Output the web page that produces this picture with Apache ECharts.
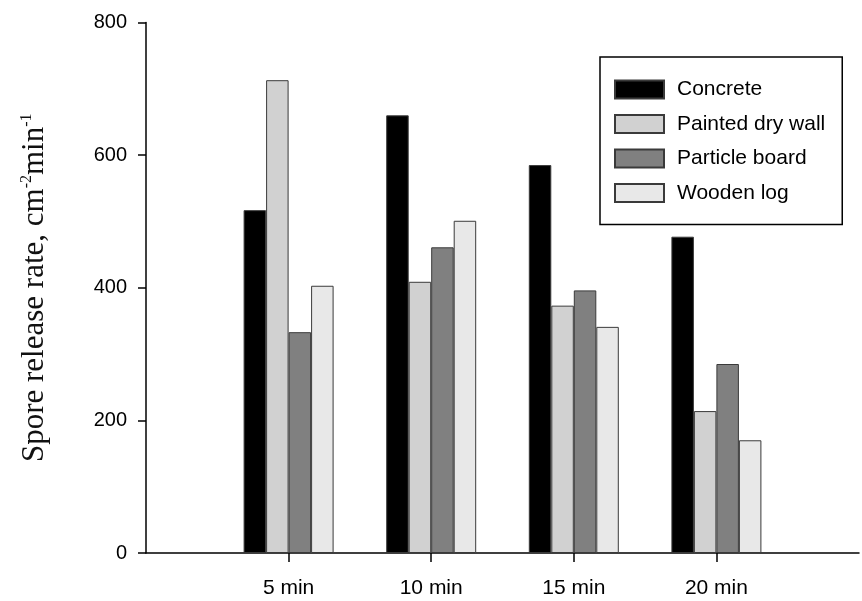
<!DOCTYPE html>
<html>
<head>
<meta charset="utf-8">
<script src="https://cdn.jsdelivr.net/npm/echarts@6/dist/echarts.min.js"></script>
<style>html,body{margin:0;padding:0;background:#fff;}#c{width:862px;height:601px;}</style>
</head>
<body>
<div id="c"></div>
<script>
const categories = ['5 min', '10 min', '15 min', '20 min'];
const seriesNames = ['Concrete', 'Painted dry wall', 'Particle board', 'Wooden log'];
const concrete = [517, 660, 585, 477];
const paintedDryWall = [713, 409, 373, 214];
const particleBoard = [333, 461, 396, 285];
const woodenLog = [403, 501, 341, 170];
const yTicks = [0, 200, 400, 600, 800];

const colors = ['#000000', '#d1d1d1', '#808080', '#e8e8e8'];
const values = [concrete, paintedDryWall, particleBoard, woodenLog];
const axisCats = [''].concat(categories, ['']);

const chart = echarts.init(document.getElementById('c'), null, {renderer: 'canvas'});
const font = 'Liberation Sans, Arial, sans-serif';
const serif = 'Liberation Serif, Times New Roman, serif';
chart.setOption({
  animation: false,
  backgroundColor: '#ffffff',
  grid: {left: 146, top: 22.5, width: 727, height: 530.5, containLabel: false},
  legend: {
    orient: 'vertical',
    left: 600, top: 57,
    data: seriesNames,
    icon: 'rect',
    itemWidth: 49, itemHeight: 18, itemGap: 13.5,
    padding: [22, 17, 21, 14],
    borderColor: '#000', borderWidth: 1.5,
    backgroundColor: '#fff',
    textStyle: {fontFamily: font, fontSize: 21, color: '#000', padding: [0, 0, 0, 8]}
  },
  xAxis: {
    type: 'category',
    data: axisCats,
    boundaryGap: false,
    axisLine: {lineStyle: {color: '#000', width: 1.5}},
    axisTick: {length: 9, lineStyle: {color: '#000', width: 1.5},
      interval: function (i) { return i >= 1 && i <= categories.length; }},
    axisLabel: {interval: 0, margin: 25, fontFamily: font, fontSize: 21, color: '#000'},
    splitLine: {show: false}
  },
  yAxis: {
    type: 'value',
    min: yTicks[0], max: yTicks[yTicks.length - 1], interval: 200,
    axisLine: {show: true, lineStyle: {color: '#000', width: 1.5}},
    axisTick: {show: true, length: 8, lineStyle: {color: '#000', width: 1.5}},
    axisLabel: {margin: 19, fontFamily: font, fontSize: 20, color: '#000'},
    splitLine: {show: false},
    name: 'Spore release rate, cm{sup|-2}min{sup|-1}',
    nameLocation: 'middle',
    nameGap: 95,
    nameTextStyle: {
      fontFamily: serif, fontSize: 31, color: '#111',
      rich: {sup: {fontFamily: serif, fontSize: 16, color: '#111', verticalAlign: 'top', lineHeight: 32}}
    }
  },
  series: values.map(function (v, k) {
    return {
      name: seriesNames[k],
      type: 'bar',
      data: [null].concat(v, [null]),
      barWidth: 22.5,
      barGap: '0%',
      itemStyle: {color: colors[k], borderColor: '#3a3a3a', borderWidth: 1}
    };
  })
});
</script>
</body>
</html>
